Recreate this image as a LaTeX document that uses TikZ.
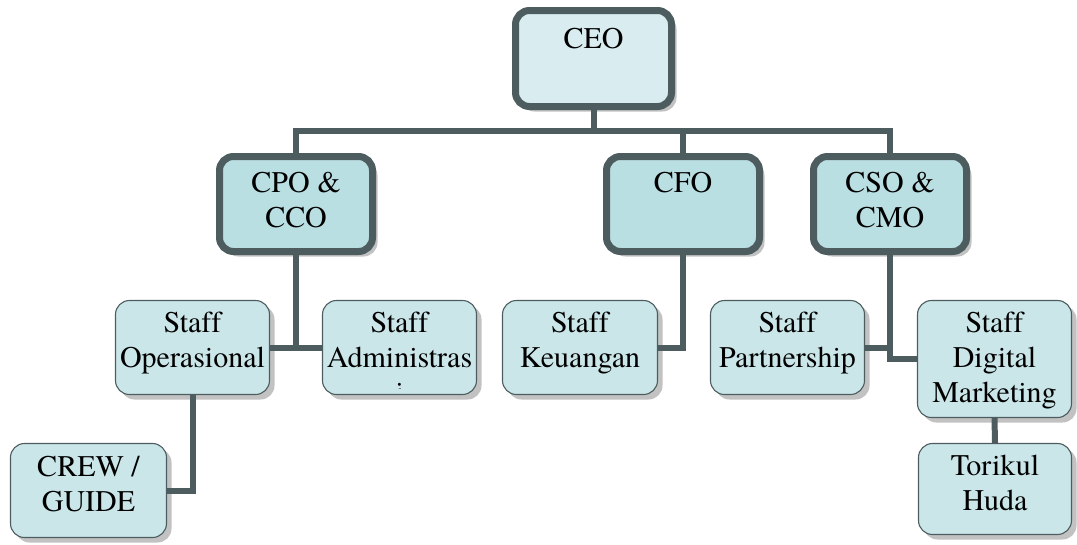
\documentclass[tikz,border=0pt]{standalone}
\usepackage{fontspec}
\setmainfont{TeX Gyre Termes}[Ligatures=NoCommon]
\usetikzlibrary{shadows}
\definecolor{linec}{HTML}{4D5D5F}
\definecolor{ceofill}{HTML}{D9EDF0}
\definecolor{topfill}{HTML}{BADFE3}
\definecolor{stafffill}{HTML}{CAE6E9}
\definecolor{shadowc}{HTML}{C2C2C2}
\tikzset{
  conn/.style={draw=linec, line width=6pt},
  shad/.style={drop shadow={shadow xshift=5pt, shadow yshift=-5pt, fill=shadowc, opacity=1}},
  topbox/.style={shad, draw=linec, line width=7pt, rounded corners=14pt, fill=topfill,
    minimum width=153pt, minimum height=95pt, inner sep=0pt},
  staffbox/.style={shad, draw=linec, line width=1.1pt, rounded corners=14pt, fill=stafffill,
    inner sep=0pt},
  lbl/.style={font=\rmfamily\fontsize{30}{35}\selectfont, align=center, inner sep=0pt, anchor=north}
}
\begin{document}
\begin{tikzpicture}[x=1pt,y=-1pt]
\useasboundingbox (0,0) rectangle (1077,544);
\coordinate (bus) at (0,131);
% top-level boxes
\node[topbox, fill=ceofill, minimum width=156pt, minimum height=96pt] (ceo) at (593.5,58.5) {};
\node[topbox] (cpo) at (296,204) {};
\node[topbox] (cfo) at (683,204) {};
\node[topbox] (cso) at (890,204) {};
% staff boxes
\node[staffbox, minimum width=154pt, minimum height=94pt] (opr) at (192.5,347.5) {};
\node[staffbox, minimum width=154pt, minimum height=94pt] (adm) at (399.5,347.5) {};
\node[staffbox, minimum width=155pt, minimum height=94pt] (keu) at (580,347.5) {};
\node[staffbox, minimum width=154pt, minimum height=94pt] (par) at (787.5,347.5) {};
\node[staffbox, minimum width=154pt, minimum height=117pt] (dig) at (994.5,359) {};
\node[staffbox, minimum width=156pt, minimum height=94pt] (crew) at (88.5,490.5) {};
\node[staffbox, minimum width=153pt, minimum height=91pt] (tor) at (995,489) {};
% connectors
\draw[conn] (cpo.north) -- (cpo.north |- bus) -- (cso.north |- bus) -- (cso.north);
\draw[conn] (ceo.south) -- (ceo.south |- bus);
\draw[conn] (cfo.north) -- (cfo.north |- bus);
\draw[conn] (cpo.south) -- (cpo.south |- opr.east);
\draw[conn] (opr.east) -- (adm.west);
\draw[conn] (opr.south) |- (crew.east);
\draw[conn] (cfo.south) |- (keu.east);
\draw[conn] (cso.south) |- (dig.west);
\draw[conn] (par.east) -- (par.east -| cso.south);
\draw[conn] (dig.south) -- (tor.north);
% labels
\node[lbl] (ceot) at ([yshift=-21pt]ceo.north) {CEO};
\node[lbl] (cpot) at ([yshift=-19pt]cpo.north) {CPO \&\\CCO};
\node[lbl] (cfot) at ([yshift=-19pt]cfo.north) {CFO};
\node[lbl] (csot) at ([yshift=-19pt]cso.north) {CSO \&\\CMO};
\node[lbl] (oprt) at ([yshift=-12pt]opr.north) {Staff\\Operasional};
\begin{scope}
  \clip ([yshift=7pt]adm.south west) rectangle (adm.north east);
  \node[lbl] (admt) at ([yshift=-12pt]adm.north) {Staff\\Administras\\i};
\end{scope}
\node[lbl] (keut) at ([yshift=-12pt]keu.north) {Staff\\Keuangan};
\node[lbl] (part) at ([yshift=-12pt]par.north) {Staff\\Partnership};
\node[lbl] (digt) at ([yshift=-12pt]dig.north) {Staff\\Digital\\Marketing};
\node[lbl] (crewt) at ([yshift=-13pt]crew.north) {CREW /\\GUIDE};
\node[lbl] (tort) at ([yshift=-12pt]tor.north) {Torikul\\Huda};
\end{tikzpicture}
\end{document}
